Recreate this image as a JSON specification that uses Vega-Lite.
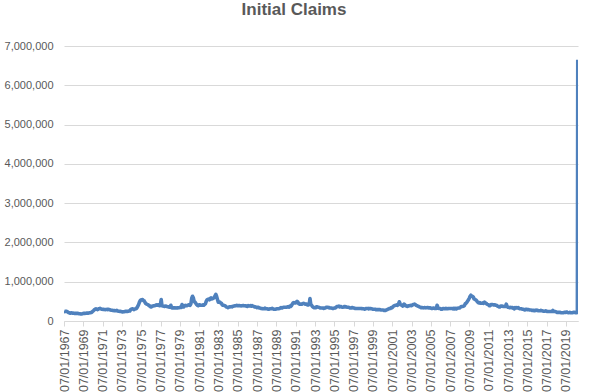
{
  "$schema": "https://vega.github.io/schema/vega-lite/v6.json",
  "width": 514,
  "height": 275,
  "autosize": "none",
  "padding": {"left": 64, "top": 46, "right": 17, "bottom": 71},
  "background": "white",
  "config": {"view": {"stroke": null}, "font": "Liberation Sans"},
  "title": {"text": "Initial Claims", "fontSize": 17, "fontWeight": "bold", "color": "#595959", "font": "Liberation Sans", "anchor": "middle", "frame": "group", "dx": -27, "offset": 21},
  "data": {"values": [
    {"d":"1967-01-07","v":250000},{"d":"1967-02-01","v":240000},{"d":"1967-03-01","v":245000},{"d":"1967-04-01","v":250000},{"d":"1967-05-01","v":240000},{"d":"1967-06-01","v":225000},{"d":"1967-07-01","v":215000},{"d":"1967-08-01","v":205000},{"d":"1967-09-01","v":200000},{"d":"1967-10-01","v":210000},{"d":"1967-11-01","v":205000},{"d":"1967-12-01","v":200000},
    {"d":"1968-01-01","v":200000},{"d":"1968-02-01","v":195000},{"d":"1968-03-01","v":195000},{"d":"1968-04-01","v":190000},{"d":"1968-05-01","v":195000},{"d":"1968-06-01","v":195000},{"d":"1968-07-01","v":190000},{"d":"1968-08-01","v":185000},{"d":"1968-09-01","v":185000},{"d":"1968-10-01","v":180000},{"d":"1968-11-01","v":180000},{"d":"1968-12-01","v":185000},
    {"d":"1969-01-01","v":190000},{"d":"1969-02-01","v":195000},{"d":"1969-03-01","v":190000},{"d":"1969-04-01","v":195000},{"d":"1969-05-01","v":200000},{"d":"1969-06-01","v":200000},{"d":"1969-07-01","v":200000},{"d":"1969-08-01","v":205000},{"d":"1969-09-01","v":210000},{"d":"1969-10-01","v":210000},{"d":"1969-11-01","v":215000},{"d":"1969-12-01","v":225000},
    {"d":"1970-01-01","v":250000},{"d":"1970-02-01","v":265000},{"d":"1970-03-01","v":285000},{"d":"1970-04-01","v":300000},{"d":"1970-05-01","v":310000},{"d":"1970-06-01","v":300000},{"d":"1970-07-01","v":290000},{"d":"1970-08-01","v":305000},{"d":"1970-09-01","v":310000},{"d":"1970-10-01","v":320000},{"d":"1970-11-01","v":310000},{"d":"1970-12-01","v":300000},
    {"d":"1971-01-01","v":300000},{"d":"1971-02-01","v":295000},{"d":"1971-03-01","v":295000},{"d":"1971-04-01","v":290000},{"d":"1971-05-01","v":290000},{"d":"1971-06-01","v":295000},{"d":"1971-07-01","v":290000},{"d":"1971-08-01","v":300000},{"d":"1971-09-01","v":295000},{"d":"1971-10-01","v":285000},{"d":"1971-11-01","v":280000},{"d":"1971-12-01","v":275000},
    {"d":"1972-01-01","v":275000},{"d":"1972-02-01","v":270000},{"d":"1972-03-01","v":265000},{"d":"1972-04-01","v":265000},{"d":"1972-05-01","v":260000},{"d":"1972-06-01","v":260000},{"d":"1972-07-01","v":270000},{"d":"1972-08-01","v":255000},{"d":"1972-09-01","v":250000},{"d":"1972-10-01","v":250000},{"d":"1972-11-01","v":245000},{"d":"1972-12-01","v":240000},
    {"d":"1973-01-01","v":235000},{"d":"1973-02-01","v":230000},{"d":"1973-03-01","v":235000},{"d":"1973-04-01","v":235000},{"d":"1973-05-01","v":240000},{"d":"1973-06-01","v":245000},{"d":"1973-07-01","v":245000},{"d":"1973-08-01","v":245000},{"d":"1973-09-01","v":250000},{"d":"1973-10-01","v":255000},{"d":"1973-11-01","v":255000},{"d":"1973-12-01","v":290000},
    {"d":"1974-01-01","v":300000},{"d":"1974-02-01","v":310000},{"d":"1974-03-01","v":305000},{"d":"1974-04-01","v":290000},{"d":"1974-05-01","v":300000},{"d":"1974-06-01","v":310000},{"d":"1974-07-01","v":310000},{"d":"1974-08-01","v":340000},{"d":"1974-09-01","v":380000},{"d":"1974-10-01","v":420000},{"d":"1974-11-01","v":480000},{"d":"1974-12-01","v":520000},
    {"d":"1975-01-01","v":540000},{"d":"1975-02-01","v":540000},{"d":"1975-03-01","v":545000},{"d":"1975-04-01","v":520000},{"d":"1975-05-01","v":510000},{"d":"1975-06-01","v":470000},{"d":"1975-07-01","v":440000},{"d":"1975-08-01","v":430000},{"d":"1975-09-01","v":420000},{"d":"1975-10-01","v":410000},{"d":"1975-11-01","v":390000},{"d":"1975-12-01","v":390000},
    {"d":"1976-01-01","v":360000},{"d":"1976-02-01","v":360000},{"d":"1976-03-01","v":380000},{"d":"1976-04-01","v":380000},{"d":"1976-05-01","v":390000},{"d":"1976-06-01","v":390000},{"d":"1976-07-01","v":400000},{"d":"1976-08-01","v":410000},{"d":"1976-09-01","v":400000},{"d":"1976-10-01","v":410000},{"d":"1976-11-01","v":410000},{"d":"1976-12-01","v":390000},
    {"d":"1977-01-01","v":410000},{"d":"1977-02-01","v":545000},{"d":"1977-03-01","v":390000},{"d":"1977-04-01","v":380000},{"d":"1977-05-01","v":380000},{"d":"1977-06-01","v":370000},{"d":"1977-07-01","v":375000},{"d":"1977-08-01","v":380000},{"d":"1977-09-01","v":370000},{"d":"1977-10-01","v":365000},{"d":"1977-11-01","v":360000},{"d":"1977-12-01","v":350000},
    {"d":"1978-01-01","v":350000},{"d":"1978-02-01","v":400000},{"d":"1978-03-01","v":340000},{"d":"1978-04-01","v":330000},{"d":"1978-05-01","v":335000},{"d":"1978-06-01","v":335000},{"d":"1978-07-01","v":335000},{"d":"1978-08-01","v":330000},{"d":"1978-09-01","v":330000},{"d":"1978-10-01","v":335000},{"d":"1978-11-01","v":335000},{"d":"1978-12-01","v":340000},
    {"d":"1979-01-01","v":345000},{"d":"1979-02-01","v":355000},{"d":"1979-03-01","v":345000},{"d":"1979-04-01","v":420000},{"d":"1979-05-01","v":360000},{"d":"1979-06-01","v":360000},{"d":"1979-07-01","v":380000},{"d":"1979-08-01","v":400000},{"d":"1979-09-01","v":390000},{"d":"1979-10-01","v":390000},{"d":"1979-11-01","v":400000},{"d":"1979-12-01","v":410000},
    {"d":"1980-01-01","v":410000},{"d":"1980-02-01","v":400000},{"d":"1980-03-01","v":440000},{"d":"1980-04-01","v":580000},{"d":"1980-05-01","v":630000},{"d":"1980-06-01","v":590000},{"d":"1980-07-01","v":500000},{"d":"1980-08-01","v":480000},{"d":"1980-09-01","v":450000},{"d":"1980-10-01","v":420000},{"d":"1980-11-01","v":400000},{"d":"1980-12-01","v":390000},
    {"d":"1981-01-01","v":410000},{"d":"1981-02-01","v":410000},{"d":"1981-03-01","v":400000},{"d":"1981-04-01","v":400000},{"d":"1981-05-01","v":400000},{"d":"1981-06-01","v":410000},{"d":"1981-07-01","v":400000},{"d":"1981-08-01","v":420000},{"d":"1981-09-01","v":440000},{"d":"1981-10-01","v":500000},{"d":"1981-11-01","v":540000},{"d":"1981-12-01","v":550000},
    {"d":"1982-01-01","v":560000},{"d":"1982-02-01","v":540000},{"d":"1982-03-01","v":570000},{"d":"1982-04-01","v":590000},{"d":"1982-05-01","v":560000},{"d":"1982-06-01","v":570000},{"d":"1982-07-01","v":580000},{"d":"1982-08-01","v":600000},{"d":"1982-09-01","v":640000},{"d":"1982-10-01","v":680000},{"d":"1982-11-01","v":620000},{"d":"1982-12-01","v":550000},
    {"d":"1983-01-01","v":480000},{"d":"1983-02-01","v":480000},{"d":"1983-03-01","v":480000},{"d":"1983-04-01","v":460000},{"d":"1983-05-01","v":450000},{"d":"1983-06-01","v":410000},{"d":"1983-07-01","v":400000},{"d":"1983-08-01","v":400000},{"d":"1983-09-01","v":390000},{"d":"1983-10-01","v":380000},{"d":"1983-11-01","v":360000},{"d":"1983-12-01","v":350000},
    {"d":"1984-01-01","v":340000},{"d":"1984-02-01","v":350000},{"d":"1984-03-01","v":360000},{"d":"1984-04-01","v":360000},{"d":"1984-05-01","v":365000},{"d":"1984-06-01","v":360000},{"d":"1984-07-01","v":370000},{"d":"1984-08-01","v":380000},{"d":"1984-09-01","v":380000},{"d":"1984-10-01","v":390000},{"d":"1984-11-01","v":390000},{"d":"1984-12-01","v":400000},
    {"d":"1985-01-01","v":390000},{"d":"1985-02-01","v":390000},{"d":"1985-03-01","v":395000},{"d":"1985-04-01","v":390000},{"d":"1985-05-01","v":385000},{"d":"1985-06-01","v":390000},{"d":"1985-07-01","v":390000},{"d":"1985-08-01","v":395000},{"d":"1985-09-01","v":390000},{"d":"1985-10-01","v":390000},{"d":"1985-11-01","v":385000},{"d":"1985-12-01","v":380000},
    {"d":"1986-01-01","v":370000},{"d":"1986-02-01","v":390000},{"d":"1986-03-01","v":380000},{"d":"1986-04-01","v":380000},{"d":"1986-05-01","v":390000},{"d":"1986-06-01","v":380000},{"d":"1986-07-01","v":390000},{"d":"1986-08-01","v":380000},{"d":"1986-09-01","v":370000},{"d":"1986-10-01","v":360000},{"d":"1986-11-01","v":360000},{"d":"1986-12-01","v":350000},
    {"d":"1987-01-01","v":340000},{"d":"1987-02-01","v":350000},{"d":"1987-03-01","v":350000},{"d":"1987-04-01","v":330000},{"d":"1987-05-01","v":330000},{"d":"1987-06-01","v":320000},{"d":"1987-07-01","v":320000},{"d":"1987-08-01","v":310000},{"d":"1987-09-01","v":310000},{"d":"1987-10-01","v":310000},{"d":"1987-11-01","v":330000},{"d":"1987-12-01","v":310000},
    {"d":"1988-01-01","v":310000},{"d":"1988-02-01","v":310000},{"d":"1988-03-01","v":300000},{"d":"1988-04-01","v":300000},{"d":"1988-05-01","v":310000},{"d":"1988-06-01","v":310000},{"d":"1988-07-01","v":310000},{"d":"1988-08-01","v":320000},{"d":"1988-09-01","v":310000},{"d":"1988-10-01","v":300000},{"d":"1988-11-01","v":300000},{"d":"1988-12-01","v":300000},
    {"d":"1989-01-01","v":305000},{"d":"1989-02-01","v":310000},{"d":"1989-03-01","v":310000},{"d":"1989-04-01","v":310000},{"d":"1989-05-01","v":315000},{"d":"1989-06-01","v":330000},{"d":"1989-07-01","v":340000},{"d":"1989-08-01","v":330000},{"d":"1989-09-01","v":340000},{"d":"1989-10-01","v":350000},{"d":"1989-11-01","v":350000},{"d":"1989-12-01","v":350000},
    {"d":"1990-01-01","v":350000},{"d":"1990-02-01","v":350000},{"d":"1990-03-01","v":360000},{"d":"1990-04-01","v":360000},{"d":"1990-05-01","v":350000},{"d":"1990-06-01","v":380000},{"d":"1990-07-01","v":370000},{"d":"1990-08-01","v":390000},{"d":"1990-09-01","v":430000},{"d":"1990-10-01","v":460000},{"d":"1990-11-01","v":470000},{"d":"1990-12-01","v":460000},
    {"d":"1991-01-01","v":460000},{"d":"1991-02-01","v":480000},{"d":"1991-03-01","v":500000},{"d":"1991-04-01","v":480000},{"d":"1991-05-01","v":440000},{"d":"1991-06-01","v":430000},{"d":"1991-07-01","v":430000},{"d":"1991-08-01","v":430000},{"d":"1991-09-01","v":430000},{"d":"1991-10-01","v":440000},{"d":"1991-11-01","v":450000},{"d":"1991-12-01","v":440000},
    {"d":"1992-01-01","v":430000},{"d":"1992-02-01","v":430000},{"d":"1992-03-01","v":430000},{"d":"1992-04-01","v":410000},{"d":"1992-05-01","v":410000},{"d":"1992-06-01","v":420000},{"d":"1992-07-01","v":570000},{"d":"1992-08-01","v":420000},{"d":"1992-09-01","v":400000},{"d":"1992-10-01","v":370000},{"d":"1992-11-01","v":350000},{"d":"1992-12-01","v":340000},
    {"d":"1993-01-01","v":340000},{"d":"1993-02-01","v":340000},{"d":"1993-03-01","v":360000},{"d":"1993-04-01","v":360000},{"d":"1993-05-01","v":350000},{"d":"1993-06-01","v":350000},{"d":"1993-07-01","v":340000},{"d":"1993-08-01","v":330000},{"d":"1993-09-01","v":330000},{"d":"1993-10-01","v":330000},{"d":"1993-11-01","v":330000},{"d":"1993-12-01","v":320000},
    {"d":"1994-01-01","v":330000},{"d":"1994-02-01","v":330000},{"d":"1994-03-01","v":350000},{"d":"1994-04-01","v":350000},{"d":"1994-05-01","v":350000},{"d":"1994-06-01","v":340000},{"d":"1994-07-01","v":340000},{"d":"1994-08-01","v":330000},{"d":"1994-09-01","v":330000},{"d":"1994-10-01","v":330000},{"d":"1994-11-01","v":320000},{"d":"1994-12-01","v":320000},
    {"d":"1995-01-01","v":330000},{"d":"1995-02-01","v":330000},{"d":"1995-03-01","v":340000},{"d":"1995-04-01","v":360000},{"d":"1995-05-01","v":370000},{"d":"1995-06-01","v":370000},{"d":"1995-07-01","v":380000},{"d":"1995-08-01","v":360000},{"d":"1995-09-01","v":370000},{"d":"1995-10-01","v":360000},{"d":"1995-11-01","v":350000},{"d":"1995-12-01","v":350000},
    {"d":"1996-01-01","v":360000},{"d":"1996-02-01","v":370000},{"d":"1996-03-01","v":360000},{"d":"1996-04-01","v":360000},{"d":"1996-05-01","v":350000},{"d":"1996-06-01","v":350000},{"d":"1996-07-01","v":350000},{"d":"1996-08-01","v":340000},{"d":"1996-09-01","v":330000},{"d":"1996-10-01","v":330000},{"d":"1996-11-01","v":340000},{"d":"1996-12-01","v":340000},
    {"d":"1997-01-01","v":330000},{"d":"1997-02-01","v":330000},{"d":"1997-03-01","v":320000},{"d":"1997-04-01","v":320000},{"d":"1997-05-01","v":320000},{"d":"1997-06-01","v":320000},{"d":"1997-07-01","v":320000},{"d":"1997-08-01","v":320000},{"d":"1997-09-01","v":320000},{"d":"1997-10-01","v":320000},{"d":"1997-11-01","v":320000},{"d":"1997-12-01","v":310000},
    {"d":"1998-01-01","v":310000},{"d":"1998-02-01","v":310000},{"d":"1998-03-01","v":300000},{"d":"1998-04-01","v":310000},{"d":"1998-05-01","v":320000},{"d":"1998-06-01","v":320000},{"d":"1998-07-01","v":320000},{"d":"1998-08-01","v":310000},{"d":"1998-09-01","v":320000},{"d":"1998-10-01","v":320000},{"d":"1998-11-01","v":310000},{"d":"1998-12-01","v":310000},
    {"d":"1999-01-01","v":300000},{"d":"1999-02-01","v":300000},{"d":"1999-03-01","v":300000},{"d":"1999-04-01","v":300000},{"d":"1999-05-01","v":290000},{"d":"1999-06-01","v":290000},{"d":"1999-07-01","v":290000},{"d":"1999-08-01","v":290000},{"d":"1999-09-01","v":290000},{"d":"1999-10-01","v":290000},{"d":"1999-11-01","v":280000},{"d":"1999-12-01","v":280000},
    {"d":"2000-01-01","v":280000},{"d":"2000-02-01","v":280000},{"d":"2000-03-01","v":270000},{"d":"2000-04-01","v":270000},{"d":"2000-05-01","v":270000},{"d":"2000-06-01","v":280000},{"d":"2000-07-01","v":290000},{"d":"2000-08-01","v":300000},{"d":"2000-09-01","v":310000},{"d":"2000-10-01","v":320000},{"d":"2000-11-01","v":320000},{"d":"2000-12-01","v":340000},
    {"d":"2001-01-01","v":340000},{"d":"2001-02-01","v":360000},{"d":"2001-03-01","v":380000},{"d":"2001-04-01","v":390000},{"d":"2001-05-01","v":400000},{"d":"2001-06-01","v":400000},{"d":"2001-07-01","v":410000},{"d":"2001-08-01","v":400000},{"d":"2001-09-01","v":430000},{"d":"2001-10-01","v":490000},{"d":"2001-11-01","v":440000},{"d":"2001-12-01","v":410000},
    {"d":"2002-01-01","v":410000},{"d":"2002-02-01","v":380000},{"d":"2002-03-01","v":390000},{"d":"2002-04-01","v":430000},{"d":"2002-05-01","v":410000},{"d":"2002-06-01","v":390000},{"d":"2002-07-01","v":380000},{"d":"2002-08-01","v":370000},{"d":"2002-09-01","v":380000},{"d":"2002-10-01","v":390000},{"d":"2002-11-01","v":390000},{"d":"2002-12-01","v":400000},
    {"d":"2003-01-01","v":390000},{"d":"2003-02-01","v":400000},{"d":"2003-03-01","v":420000},{"d":"2003-04-01","v":420000},{"d":"2003-05-01","v":430000},{"d":"2003-06-01","v":420000},{"d":"2003-07-01","v":400000},{"d":"2003-08-01","v":390000},{"d":"2003-09-01","v":380000},{"d":"2003-10-01","v":370000},{"d":"2003-11-01","v":360000},{"d":"2003-12-01","v":350000},
    {"d":"2004-01-01","v":340000},{"d":"2004-02-01","v":345000},{"d":"2004-03-01","v":340000},{"d":"2004-04-01","v":335000},{"d":"2004-05-01","v":340000},{"d":"2004-06-01","v":340000},{"d":"2004-07-01","v":335000},{"d":"2004-08-01","v":340000},{"d":"2004-09-01","v":345000},{"d":"2004-10-01","v":335000},{"d":"2004-11-01","v":330000},{"d":"2004-12-01","v":335000},
    {"d":"2005-01-01","v":330000},{"d":"2005-02-01","v":320000},{"d":"2005-03-01","v":320000},{"d":"2005-04-01","v":330000},{"d":"2005-05-01","v":330000},{"d":"2005-06-01","v":320000},{"d":"2005-07-01","v":320000},{"d":"2005-08-01","v":320000},{"d":"2005-09-01","v":400000},{"d":"2005-10-01","v":350000},{"d":"2005-11-01","v":320000},{"d":"2005-12-01","v":320000},
    {"d":"2006-01-01","v":320000},{"d":"2006-02-01","v":300000},{"d":"2006-03-01","v":300000},{"d":"2006-04-01","v":320000},{"d":"2006-05-01","v":320000},{"d":"2006-06-01","v":310000},{"d":"2006-07-01","v":310000},{"d":"2006-08-01","v":320000},{"d":"2006-09-01","v":310000},{"d":"2006-10-01","v":310000},{"d":"2006-11-01","v":320000},{"d":"2006-12-01","v":320000},
    {"d":"2007-01-01","v":320000},{"d":"2007-02-01","v":320000},{"d":"2007-03-01","v":320000},{"d":"2007-04-01","v":320000},{"d":"2007-05-01","v":310000},{"d":"2007-06-01","v":320000},{"d":"2007-07-01","v":310000},{"d":"2007-08-01","v":320000},{"d":"2007-09-01","v":310000},{"d":"2007-10-01","v":320000},{"d":"2007-11-01","v":330000},{"d":"2007-12-01","v":330000},
    {"d":"2008-01-01","v":330000},{"d":"2008-02-01","v":350000},{"d":"2008-03-01","v":370000},{"d":"2008-04-01","v":370000},{"d":"2008-05-01","v":370000},{"d":"2008-06-01","v":380000},{"d":"2008-07-01","v":390000},{"d":"2008-08-01","v":440000},{"d":"2008-09-01","v":450000},{"d":"2008-10-01","v":480000},{"d":"2008-11-01","v":510000},{"d":"2008-12-01","v":540000},
    {"d":"2009-01-01","v":580000},{"d":"2009-02-01","v":630000},{"d":"2009-03-01","v":655000},{"d":"2009-04-01","v":630000},{"d":"2009-05-01","v":630000},{"d":"2009-06-01","v":610000},{"d":"2009-07-01","v":560000},{"d":"2009-08-01","v":550000},{"d":"2009-09-01","v":540000},{"d":"2009-10-01","v":520000},{"d":"2009-11-01","v":490000},{"d":"2009-12-01","v":470000},
    {"d":"2010-01-01","v":460000},{"d":"2010-02-01","v":470000},{"d":"2010-03-01","v":450000},{"d":"2010-04-01","v":450000},{"d":"2010-05-01","v":450000},{"d":"2010-06-01","v":460000},{"d":"2010-07-01","v":450000},{"d":"2010-08-01","v":480000},{"d":"2010-09-01","v":460000},{"d":"2010-10-01","v":450000},{"d":"2010-11-01","v":430000},{"d":"2010-12-01","v":420000},
    {"d":"2011-01-01","v":410000},{"d":"2011-02-01","v":390000},{"d":"2011-03-01","v":390000},{"d":"2011-04-01","v":420000},{"d":"2011-05-01","v":420000},{"d":"2011-06-01","v":420000},{"d":"2011-07-01","v":410000},{"d":"2011-08-01","v":410000},{"d":"2011-09-01","v":410000},{"d":"2011-10-01","v":400000},{"d":"2011-11-01","v":400000},{"d":"2011-12-01","v":380000},
    {"d":"2012-01-01","v":370000},{"d":"2012-02-01","v":360000},{"d":"2012-03-01","v":360000},{"d":"2012-04-01","v":380000},{"d":"2012-05-01","v":380000},{"d":"2012-06-01","v":380000},{"d":"2012-07-01","v":370000},{"d":"2012-08-01","v":370000},{"d":"2012-09-01","v":370000},{"d":"2012-10-01","v":370000},{"d":"2012-11-01","v":430000},{"d":"2012-12-01","v":370000},
    {"d":"2013-01-01","v":350000},{"d":"2013-02-01","v":350000},{"d":"2013-03-01","v":340000},{"d":"2013-04-01","v":350000},{"d":"2013-05-01","v":340000},{"d":"2013-06-01","v":340000},{"d":"2013-07-01","v":340000},{"d":"2013-08-01","v":320000},{"d":"2013-09-01","v":310000},{"d":"2013-10-01","v":340000},{"d":"2013-11-01","v":330000},{"d":"2013-12-01","v":340000},
    {"d":"2014-01-01","v":330000},{"d":"2014-02-01","v":340000},{"d":"2014-03-01","v":320000},{"d":"2014-04-01","v":310000},{"d":"2014-05-01","v":310000},{"d":"2014-06-01","v":310000},{"d":"2014-07-01","v":300000},{"d":"2014-08-01","v":300000},{"d":"2014-09-01","v":290000},{"d":"2014-10-01","v":280000},{"d":"2014-11-01","v":300000},{"d":"2014-12-01","v":300000},
    {"d":"2015-01-01","v":290000},{"d":"2015-02-01","v":290000},{"d":"2015-03-01","v":290000},{"d":"2015-04-01","v":280000},{"d":"2015-05-01","v":280000},{"d":"2015-06-01","v":280000},{"d":"2015-07-01","v":270000},{"d":"2015-08-01","v":270000},{"d":"2015-09-01","v":270000},{"d":"2015-10-01","v":260000},{"d":"2015-11-01","v":270000},{"d":"2015-12-01","v":270000},
    {"d":"2016-01-01","v":280000},{"d":"2016-02-01","v":270000},{"d":"2016-03-01","v":260000},{"d":"2016-04-01","v":260000},{"d":"2016-05-01","v":260000},{"d":"2016-06-01","v":270000},{"d":"2016-07-01","v":260000},{"d":"2016-08-01","v":260000},{"d":"2016-09-01","v":250000},{"d":"2016-10-01","v":250000},{"d":"2016-11-01","v":250000},{"d":"2016-12-01","v":260000},
    {"d":"2017-01-01","v":250000},{"d":"2017-02-01","v":240000},{"d":"2017-03-01","v":240000},{"d":"2017-04-01","v":240000},{"d":"2017-05-01","v":240000},{"d":"2017-06-01","v":240000},{"d":"2017-07-01","v":240000},{"d":"2017-08-01","v":240000},{"d":"2017-09-01","v":270000},{"d":"2017-10-01","v":240000},{"d":"2017-11-01","v":240000},{"d":"2017-12-01","v":240000},
    {"d":"2018-01-01","v":230000},{"d":"2018-02-01","v":220000},{"d":"2018-03-01","v":220000},{"d":"2018-04-01","v":220000},{"d":"2018-05-01","v":220000},{"d":"2018-06-01","v":220000},{"d":"2018-07-01","v":210000},{"d":"2018-08-01","v":210000},{"d":"2018-09-01","v":210000},{"d":"2018-10-01","v":210000},{"d":"2018-11-01","v":220000},{"d":"2018-12-01","v":220000},
    {"d":"2019-01-01","v":220000},{"d":"2019-02-01","v":230000},{"d":"2019-03-01","v":220000},{"d":"2019-04-01","v":210000},{"d":"2019-05-01","v":210000},{"d":"2019-06-01","v":220000},{"d":"2019-07-01","v":210000},{"d":"2019-08-01","v":210000},{"d":"2019-09-01","v":210000},{"d":"2019-10-01","v":215000},{"d":"2019-11-01","v":220000},{"d":"2019-12-01","v":220000},
    {"d":"2020-01-01","v":212000},{"d":"2020-02-01","v":210000},{"d":"2020-03-07","v":215000},{"d":"2020-03-14","v":282000},{"d":"2020-03-21","v":3307000},{"d":"2020-03-28","v":6648000}
  ]},
  "mark": {"type": "line", "color": "#4F81BD", "strokeWidth": 3.6, "strokeJoin": "round", "clip": true},
  "encoding": {
    "x": {
      "field": "d", "type": "temporal",
      "scale": {"type": "utc", "domain": [{"year": 1967, "month": 1, "date": 7, "utc": true}, {"year": 2020, "month": 4, "date": 6, "utc": true}]},
      "axis": {
        "title": null,
        "values": [
          {"year":1967,"month":1,"date":7,"utc":true},{"year":1969,"month":1,"date":7,"utc":true},{"year":1971,"month":1,"date":7,"utc":true},{"year":1973,"month":1,"date":7,"utc":true},{"year":1975,"month":1,"date":7,"utc":true},{"year":1977,"month":1,"date":7,"utc":true},{"year":1979,"month":1,"date":7,"utc":true},{"year":1981,"month":1,"date":7,"utc":true},{"year":1983,"month":1,"date":7,"utc":true},{"year":1985,"month":1,"date":7,"utc":true},{"year":1987,"month":1,"date":7,"utc":true},{"year":1989,"month":1,"date":7,"utc":true},{"year":1991,"month":1,"date":7,"utc":true},{"year":1993,"month":1,"date":7,"utc":true},{"year":1995,"month":1,"date":7,"utc":true},{"year":1997,"month":1,"date":7,"utc":true},{"year":1999,"month":1,"date":7,"utc":true},{"year":2001,"month":1,"date":7,"utc":true},{"year":2003,"month":1,"date":7,"utc":true},{"year":2005,"month":1,"date":7,"utc":true},{"year":2007,"month":1,"date":7,"utc":true},{"year":2009,"month":1,"date":7,"utc":true},{"year":2011,"month":1,"date":7,"utc":true},{"year":2013,"month":1,"date":7,"utc":true},{"year":2015,"month":1,"date":7,"utc":true},{"year":2017,"month":1,"date":7,"utc":true},{"year":2019,"month":1,"date":7,"utc":true}
        ],
        "labelExpr": "utcFormat(datum.value, '%d/%m/%Y')",
        "labelAngle": 270,
        "labelAlign": "right",
        "labelBaseline": "middle",
        "labelFont": "Liberation Sans",
        "labelFontSize": 12.5,
        "labelColor": "#595959",
        "labelPadding": 3,
        "labelOverlap": false,
        "labelFlush": false,
        "grid": false,
        "domainColor": "#D9D9D9",
        "domainWidth": 1,
        "tickColor": "#D9D9D9",
        "tickSize": 5
      }
    },
    "y": {
      "field": "v", "type": "quantitative",
      "scale": {"domain": [0, 7000000], "nice": false},
      "axis": {
        "title": null,
        "values": [0, 1000000, 2000000, 3000000, 4000000, 5000000, 6000000, 7000000],
        "labelExpr": "format(datum.value, ',')",
        "labelFont": "Liberation Sans",
        "labelFontSize": 11,
        "labelColor": "#595959",
        "labelPadding": 11,
        "domain": false,
        "ticks": false,
        "gridColor": "#D9D9D9",
        "gridWidth": 1
      }
    }
  }
}
